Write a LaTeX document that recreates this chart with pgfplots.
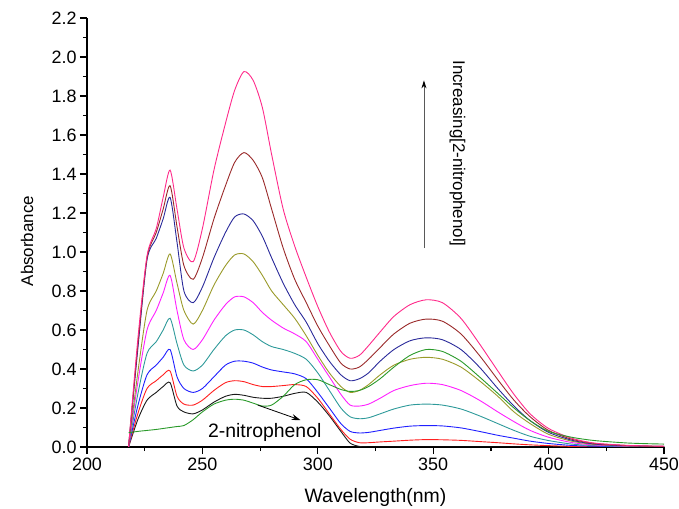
\documentclass[border=0pt]{standalone}
\usepackage{fontspec}
\setmainfont{Liberation Sans}
\usepackage{pgfplots}
\pgfplotsset{compat=1.18}
\usepackage{pgfplotstable}
\usetikzlibrary{arrows.meta}

\definecolor{cbk}{HTML}{1A1A1A}
\definecolor{crd}{HTML}{FF2020}
\definecolor{cbl}{HTML}{2020FF}
\definecolor{ctl}{HTML}{2E9A9A}
\definecolor{cmg}{HTML}{FF20FF}
\definecolor{col}{HTML}{9A9A2A}
\definecolor{cnv}{HTML}{2A2A9A}
\definecolor{cwn}{HTML}{9A2A2A}
\definecolor{cpk}{HTML}{FF2A8A}
\definecolor{cgn}{HTML}{2A9A2A}

% absorbance spectra, one column per concentration; gn = 2-nitrophenol alone
\pgfplotstableread{
x    bk    rd    bl    tl    mg    ol    nv    wn    pk    gn
218  0     0     0     0     0     0     0     0     0     0.073
222  0.14  0.17  0.21  0.27  0.33  0.38  0.50  0.52  0.55  0.08
226  0.24  0.30  0.37  0.48  0.60  0.70  0.96  0.97  0.98  0.085
230  0.28  0.34  0.42  0.54  0.70  0.80  1.07  1.10  1.12  0.09
233  0.31  0.37  0.46  0.60  0.79  0.89  1.17  1.22  1.28  0.095
236  0.33  0.39  0.50  0.66  0.88  0.99  1.28  1.34  1.42  0.10
239  0.21  0.26  0.36  0.53  0.70  0.84  1.05  1.13  1.22  0.105
242  0.18  0.22  0.30  0.42  0.55  0.70  0.80  0.93  1.02  0.11
246  0.17  0.215 0.28  0.39  0.50  0.63  0.74  0.86  0.95  0.14
250  0.19  0.24  0.30  0.42  0.55  0.70  0.82  0.97  1.12  0.18
255  0.23  0.29  0.36  0.50  0.65  0.83  0.97  1.17  1.42  0.22
260  0.26  0.33  0.42  0.57  0.73  0.93  1.10  1.34  1.66  0.24
264  0.27  0.34  0.44  0.60  0.77  0.985 1.18  1.46  1.83  0.245
268  0.265 0.335 0.44  0.60  0.77  0.99  1.195 1.51  1.925 0.24
272  0.255 0.32  0.43  0.575 0.74  0.95  1.16  1.47  1.88  0.225
276  0.25  0.31  0.41  0.54  0.69  0.88  1.08  1.38  1.74  0.21
280  0.25  0.31  0.395 0.515 0.65  0.80  0.97  1.22  1.50  0.215
285  0.26  0.315 0.385 0.50  0.61  0.73  0.84  1.02  1.22  0.26
290  0.275 0.32  0.375 0.48  0.58  0.66  0.73  0.86  1.03  0.32
295  0.28  0.31  0.35  0.45  0.54  0.57  0.64  0.74  0.87  0.345
300  0.23  0.25  0.28  0.38  0.45  0.47  0.53  0.62  0.72  0.345
305  0.16  0.17  0.20  0.29  0.36  0.38  0.44  0.52  0.59  0.32
310  0.08  0.09  0.12  0.20  0.27  0.31  0.37  0.43  0.49  0.295
314  0.02  0.04  0.08  0.155 0.215 0.28  0.34  0.40  0.455 0.285
318  0.003 0.022 0.072 0.145 0.21  0.29  0.35  0.41  0.47  0.29
322  0     0.022 0.075 0.15  0.22  0.32  0.38  0.45  0.52  0.31
327  0     0.026 0.085 0.17  0.25  0.37  0.44  0.51  0.59  0.35
333  0     0.03  0.097 0.195 0.29  0.42  0.50  0.58  0.67  0.41
340  0     0.035 0.107 0.215 0.315 0.45  0.545 0.635 0.73  0.47
347  0     0.038 0.11  0.22  0.327 0.46  0.56  0.656 0.755 0.50
354  0     0.037 0.108 0.215 0.32  0.45  0.55  0.645 0.74  0.49
362  0     0.034 0.098 0.195 0.29  0.41  0.50  0.58  0.66  0.44
370  0     0.028 0.08  0.16  0.24  0.34  0.41  0.47  0.53  0.36
378  0     0.022 0.06  0.12  0.18  0.26  0.30  0.345 0.39  0.275
385  0     0.016 0.045 0.085 0.13  0.18  0.21  0.24  0.27  0.20
392  0     0.011 0.03  0.055 0.085 0.12  0.135 0.155 0.17  0.135
400  0     0.007 0.018 0.033 0.05  0.065 0.075 0.085 0.095 0.08
410  0     0.003 0.008 0.015 0.023 0.03  0.035 0.04  0.045 0.05
420  0     0.001 0.004 0.007 0.01  0.013 0.015 0.018 0.02  0.033
435  0     0     0.002 0.003 0.004 0.005 0.006 0.007 0.008 0.02
450  0     0     0.001 0.001 0.002 0.002 0.003 0.003 0.004 0.015
}\spectra

\begin{document}
\begin{tikzpicture}
\begin{axis}[
  scale only axis,
  width=577bp, height=429bp,
  xmin=200, xmax=450, ymin=0, ymax=2.2,
  axis x line*=bottom, axis y line*=left,
  axis line style={line width=1.2bp},
  xtick={200,250,...,450},
  ytick={0,0.2,...,2.21},
  minor x tick num=1, minor y tick num=1,
  tick align=outside,
  major tick length=7bp, minor tick length=4bp,
  every tick/.style={black, line width=1.2bp},
  /pgf/number format/assume math mode=true,
  yticklabel style={/pgf/number format/.cd, fixed, fixed zerofill, precision=1},
  tick label style={font=\fontsize{18}{20}\selectfont},
  xlabel={Wavelength(nm)},
  ylabel={Absorbance},
  xlabel style={font=\fontsize{19.5}{22}\selectfont, at={(axis description cs:0.5,-0.117)}, anchor=center},
  ylabel style={font=\fontsize{17}{20}\selectfont, at={(axis description cs:-0.104,0.48)}, anchor=center},
  every axis plot/.append style={line width=0.9bp, smooth, tension=0.45},
]
\addplot[cbk] table[x=x, y=bk] {\spectra};
\addplot[crd] table[x=x, y=rd] {\spectra};
\addplot[cbl] table[x=x, y=bl] {\spectra};
\addplot[ctl] table[x=x, y=tl] {\spectra};
\addplot[cmg] table[x=x, y=mg] {\spectra};
\addplot[col] table[x=x, y=ol] {\spectra};
\addplot[cnv] table[x=x, y=nv] {\spectra};
\addplot[cwn] table[x=x, y=wn] {\spectra};
\addplot[cpk] table[x=x, y=pk] {\spectra};
\addplot[cgn] table[x=x, y=gn] {\spectra};

\draw[line width=0.8bp, -{Stealth[length=9bp, width=6bp]}] (axis cs:274,0.215) -- (axis cs:292.5,0.138);
\node[font=\fontsize{19.5}{22}\selectfont] at (axis cs:277,0.075) {2-nitrophenol};
\draw[line width=0.8bp, black!65, -{Stealth[length=8bp, width=5bp, black]}] (axis cs:346,1.02) -- (axis cs:346,1.88);
\node[rotate=-90, font=\fontsize{17}{20}\selectfont] at (axis cs:360.5,1.505) {Increasing[2-nitrophenol]};
\end{axis}
\pgfresetboundingbox
\path[use as bounding box] (current axis.south west) ++(-87bp,-62bp) rectangle ++(679bp,509bp);
\end{tikzpicture}
\end{document}
